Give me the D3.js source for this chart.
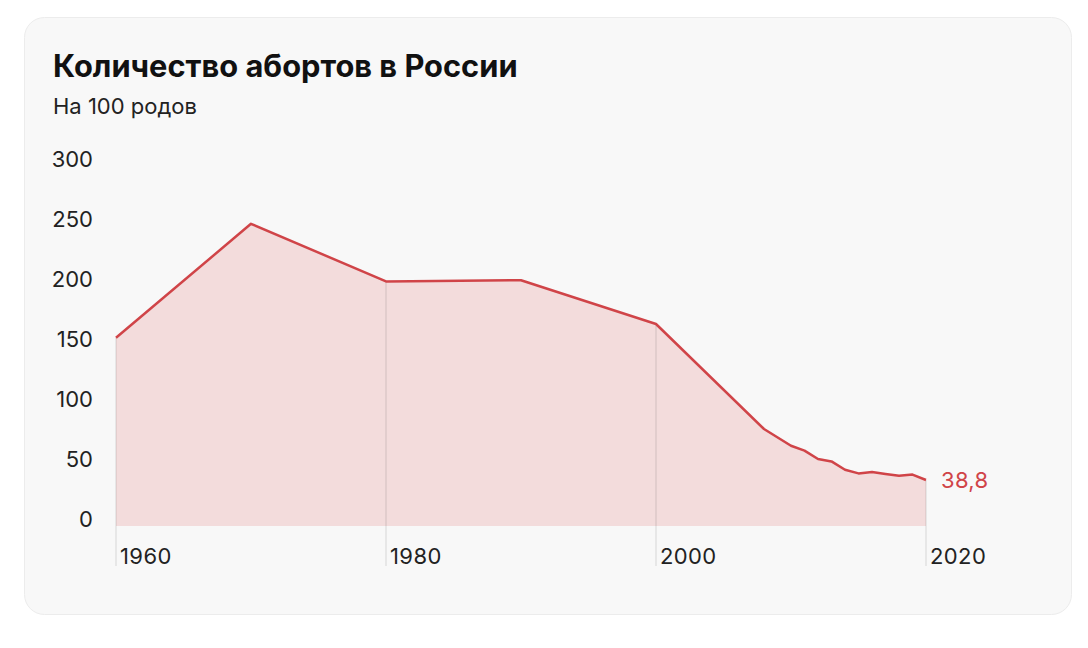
<!DOCTYPE html>
<html lang="ru">
<head>
<meta charset="utf-8">
<title>Количество абортов в России</title>
<script src="https://cdn.jsdelivr.net/npm/d3@7"></script>
<style>
  body { margin: 0; background: #fff; font-family: Inter, "Noto Sans", sans-serif; }
  svg text { font-family: Inter, "Noto Sans", sans-serif; }
</style>
</head>
<body>
<svg id="chart" width="1088" height="648"></svg>
<script>
// data
const years  = [1960, 1970, 1980, 1990, 2000, 2008, 2010, 2011, 2012, 2013, 2014, 2015, 2016, 2017, 2018, 2019, 2020];
const values = [151, 246, 198, 199, 162.5, 75, 61, 57, 50, 48, 41, 38, 39.2, 37.5, 36, 37, 32.5];
const yTicks = [0, 50, 100, 150, 200, 250, 300];
const xTicks = [1960, 1980, 2000, 2020];
const lastLabel = "38,8";

const data = years.map((y, i) => ({year: y, value: values[i]}));

const svg = d3.select("#chart");

// card
svg.append("rect")
    .attr("x", 24.5).attr("y", 17.5)
    .attr("width", 1047).attr("height", 597)
    .attr("rx", 20)
    .attr("fill", "#f8f8f8")
    .attr("stroke", "#ececec");

svg.append("text")
    .attr("x", 53).attr("y", 77)
    .attr("font-size", 30.8).attr("font-weight", 700)
    .attr("fill", "#111")
    .text("Количество абортов в России");

svg.append("text")
    .attr("x", 53).attr("y", 114)
    .attr("font-size", 22)
    .attr("fill", "#222")
    .text("На 100 родов");

const x = d3.scaleLinear().domain([1960, 2020]).range([116, 926]);
const y = d3.scaleLinear().domain([0, 300]).range([519, 159]);
const base = 526;

// y labels
svg.append("g").selectAll("text")
    .data(yTicks).join("text")
    .attr("x", 93).attr("y", d => y(d))
    .attr("dy", "0.35em")
    .attr("text-anchor", "end")
    .attr("font-size", 22)
    .attr("fill", "#222")
    .text(d => d);

// area
const area = d3.area()
    .x(d => x(d.year))
    .y0(base)
    .y1(d => y(d.value));

svg.append("path")
    .datum(data)
    .attr("d", area)
    .attr("fill", "#f3dcdc");

// vertical grid lines from the line down through the labels
const valueAt = yr => values[years.indexOf(yr)];
svg.append("g").selectAll("line")
    .data(xTicks).join("line")
    .attr("x1", d => x(d)).attr("x2", d => x(d))
    .attr("y1", d => y(valueAt(d)))
    .attr("y2", 566)
    .attr("stroke", "rgba(0,0,0,0.09)")
    .attr("stroke-width", 1.5);

// line
svg.append("path")
    .datum(data)
    .attr("d", d3.line().x(d => x(d.year)).y(d => y(d.value)))
    .attr("fill", "none")
    .attr("stroke", "#d04448")
    .attr("stroke-width", 2.5)
    .attr("stroke-linejoin", "round");

// x labels
svg.append("g").selectAll("text")
    .data(xTicks).join("text")
    .attr("x", d => x(d) + 4).attr("y", 564)
    .attr("font-size", 22)
    .attr("letter-spacing", 0.4)
    .attr("fill", "#222")
    .text(d => d);

// last value label
const last = data[data.length - 1];
svg.append("text")
    .attr("x", x(last.year) + 15).attr("y", y(last.value))
    .attr("dy", "0.35em")
    .attr("font-size", 22)
    .attr("letter-spacing", 0.3)
    .attr("fill", "#d04448")
    .text(lastLabel);
</script>
</body>
</html>
